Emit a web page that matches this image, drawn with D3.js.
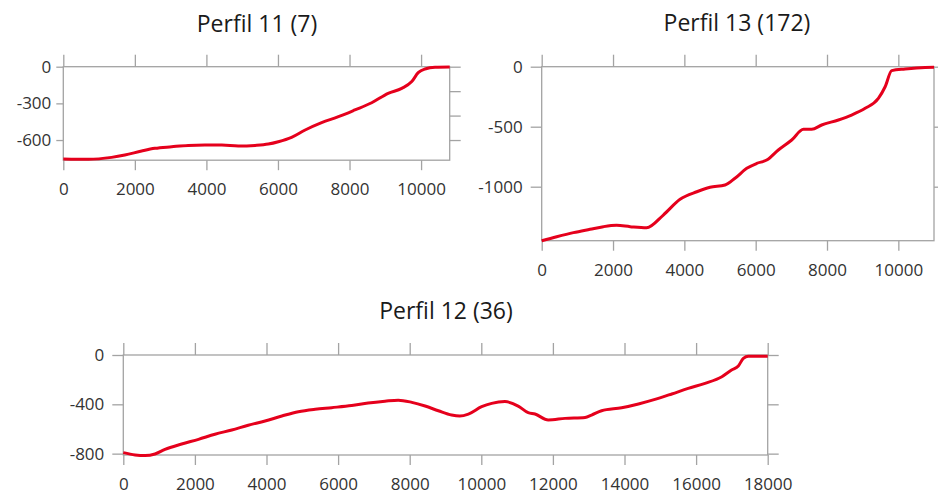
<!DOCTYPE html>
<html>
<head>
<meta charset="utf-8">
<script src="https://cdn.jsdelivr.net/npm/d3@7"></script>
<style>
  body { margin: 0; background: #fff; }
  text { font-family: "Open Sans", sans-serif; }
</style>
</head>
<body>
<script>
'use strict';

// Perfil 11 (7)
const perfil11Dist = [0, 700, 1350, 1720, 2190, 2560, 3030, 3490, 3960, 4430, 4890, 5360, 5730, 6010, 6380, 6760, 7220, 7690, 8150, 8620, 9080, 9460, 9740, 9920, 10110, 10390, 10800];
const perfil11Elev = [-755, -758, -742, -723, -690, -668, -655, -644, -641, -641, -649, -644, -633, -614, -578, -518, -458, -409, -354, -295, -218, -177, -122, -49, -19, -5, -3];

// Perfil 13 (172)
const perfil13Dist = [0, 420, 890, 1355, 1730, 2100, 2480, 2940, 3410, 3880, 4350, 4720, 5140, 5420, 5750, 6030, 6310, 6635, 7010, 7340, 7570, 7850, 8320, 8690, 9070, 9440, 9630, 9815, 10190, 10750, 11000];
const perfil13Elev = [-1450, -1417, -1383, -1355, -1333, -1322, -1333, -1342, -1236, -1105, -1042, -1005, -986, -930, -847, -806, -778, -694, -611, -522, -522, -486, -444, -403, -347, -264, -167, -33, -19, -6, -5];

// Perfil 12 (36)
const perfil12Dist = [0, 330, 610, 885, 1165, 1630, 2100, 2560, 3030, 3490, 3960, 4430, 4890, 5360, 5820, 6380, 6840, 7310, 7680, 8060, 8430, 8800, 9170, 9400, 9640, 10010, 10290, 10660, 11030, 11310, 11500, 11870, 12340, 12900, 13080, 13360, 13920, 14390, 14850, 15320, 15780, 16250, 16720, 16990, 17180, 17320, 17460, 18000];
const perfil12Elev = [-792, -811, -816, -803, -765, -722, -684, -643, -608, -570, -535, -495, -460, -440, -427, -410, -390, -375, -366, -384, -414, -452, -487, -495, -479, -419, -392, -378, -414, -468, -479, -527, -514, -506, -487, -452, -428, -397, -360, -316, -271, -230, -176, -122, -89, -27, -10, -10];

// tick labels
const xTicks11 = [0, 2000, 4000, 6000, 8000, 10000];
const yTicks11 = [0, -300, -600];
const rightTicks11 = [0, -200, -400, -600];
const xTicks13 = [0, 2000, 4000, 6000, 8000, 10000];
const yTicks13 = [0, -500, -1000];
const xTicks12 = [0, 2000, 4000, 6000, 8000, 10000, 12000, 14000, 16000, 18000];
const yTicks12 = [0, -400, -800];

const panels = [
  { title: 'Perfil 11 (7)', dist: perfil11Dist, elev: perfil11Elev,
    xDomain: [0, 10800], xRange: [63.3, 449.7], yDomain: [0, -765], yRange: [66.7, 160.2],
    xTicks: xTicks11, yTicks: yTicks11, rightTicks: rightTicks11,
    leftSize: 7, leftPad: 5, titleX: 257, titleY: 32 },
  { title: 'Perfil 13 (172)', dist: perfil13Dist, elev: perfil13Elev,
    xDomain: [0, 11000], xRange: [541.7, 934], yDomain: [0, -1450], yRange: [66.7, 240.7],
    xTicks: xTicks13, yTicks: yTicks13, rightTicks: yTicks13,
    leftSize: 11, leftPad: 8, titleX: 737, titleY: 31 },
  { title: 'Perfil 12 (36)', dist: perfil12Dist, elev: perfil12Elev,
    xDomain: [0, 18000], xRange: [123.3, 767.7], yDomain: [0, -811], yRange: [355, 455],
    xTicks: xTicks12, yTicks: yTicks12, rightTicks: yTicks12,
    leftSize: 11, leftPad: 8, titleX: 446, titleY: 319 }
];

const svg = d3.select('body').append('svg')
  .attr('width', 938)
  .attr('height', 501);

const axisColor = '#a3a3a3';
const fmt = d => String(d);

function styleAxis(sel) {
  sel.select('.domain').remove();
  sel.selectAll('.tick line').attr('stroke', axisColor).attr('stroke-width', 1.3);
  sel.selectAll('.tick text').attr('fill', '#333').style('font-size', '17px');
}

function drawPanel(p) {
  const x = d3.scaleLinear().domain(p.xDomain).range(p.xRange);
  const y = d3.scaleLinear().domain(p.yDomain).range(p.yRange);
  const g = svg.append('g');

  g.append('rect')
    .attr('x', p.xRange[0])
    .attr('y', p.yRange[0])
    .attr('width', p.xRange[1] - p.xRange[0])
    .attr('height', p.yRange[1] - p.yRange[0])
    .attr('fill', 'none')
    .attr('stroke', axisColor)
    .attr('stroke-width', 1.3);

  g.append('g')
    .attr('transform', `translate(0,${p.yRange[1]})`)
    .call(d3.axisBottom(x).tickValues(p.xTicks).tickSize(10).tickPadding(13).tickFormat(fmt))
    .call(styleAxis);

  g.append('g')
    .attr('transform', `translate(0,${p.yRange[0]})`)
    .call(d3.axisTop(x).tickValues(p.xTicks).tickSize(12).tickFormat(''))
    .call(styleAxis);

  g.append('g')
    .attr('transform', `translate(${p.xRange[0]},0)`)
    .call(d3.axisLeft(y).tickValues(p.yTicks).tickSize(p.leftSize).tickPadding(p.leftPad).tickFormat(fmt))
    .call(styleAxis);

  g.append('g')
    .attr('transform', `translate(${p.xRange[1]},0)`)
    .call(d3.axisRight(y).tickValues(p.rightTicks).tickSize(11).tickFormat(''))
    .call(styleAxis);

  const line = d3.line()
    .x((d, i) => x(p.dist[i]))
    .y(d => y(d))
    .curve(d3.curveMonotoneX);

  g.append('path')
    .datum(p.elev)
    .attr('d', line)
    .attr('fill', 'none')
    .attr('stroke', '#e5001c')
    .attr('stroke-width', 3)
    .attr('stroke-linejoin', 'round');

  svg.append('text')
    .attr('x', p.titleX)
    .attr('y', p.titleY)
    .attr('text-anchor', 'middle')
    .attr('fill', '#1a1a1a')
    .style('font-size', '23px')
    .text(p.title);
}

panels.forEach(drawPanel);
</script>
</body>
</html>
